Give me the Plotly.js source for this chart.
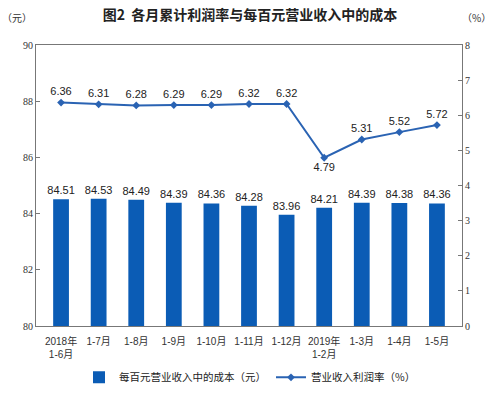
<!DOCTYPE html>
<html><head><meta charset="utf-8">
<script src="https://cdn.plot.ly/plotly-3.0.1.min.js"></script>
<style>body{margin:0;background:#fff}#c{width:500px;height:393px}</style>
</head><body><div id="c"></div>
<script>
const categories = ["2018年<br>1-6月","1-7月","1-8月","1-9月","1-10月","1-11月","1-12月","2019年<br>1-2月","1-3月","1-4月","1-5月"];
const costValues = [84.51,84.53,84.49,84.39,84.36,84.28,83.96,84.21,84.39,84.38,84.36];
const profitRate = [6.36,6.31,6.28,6.29,6.29,6.32,6.32,4.79,5.31,5.52,5.72];
const leftTicks = [80,82,84,86,88,90];
const rightTicks = [0,1,2,3,4,5,6,7,8];

const serif = "Liberation Serif, serif";
const sans = "Liberation Sans, Arial, sans-serif";
const cjk = "Noto Sans CJK SC, sans-serif";
const mixed = "Liberation Sans, Noto Sans CJK SC, sans-serif";

const bars = {
  type:'bar', x:categories, y:costValues, name:'每百元营业收入中的成本（元）',
  marker:{color:'#0b5cb5'}, width:0.42,
  text: costValues.map(v=>v.toFixed(2)), textposition:'outside', cliponaxis:false, constraintext:'none',
  textfont:{family:sans, size:11, color:'#222'}
};
const line = {
  type:'scatter', mode:'lines+markers+text', x:categories, y:profitRate, yaxis:'y2',
  name:'营业收入利润率（%）',
  line:{color:'#2a63b3', width:2}, marker:{symbol:'diamond', size:6, color:'#2a63b3'},
  text: profitRate.map(v=>v.toFixed(2)),
  textposition: profitRate.map((v,i)=> i===7 ? 'bottom center' : 'top center'),
  textfont:{family:sans, size:11, color:'#222'}, cliponaxis:false
};
const layout = {
  width:500, height:393,
  margin:{l:36, r:38, t:45, b:67},
  paper_bgcolor:'#fff', plot_bgcolor:'#fff',
  showlegend:true,
  legend:{orientation:'h', xref:'container', yref:'container', x:0.5, xanchor:'center', y:0.04, yanchor:'middle',
    font:{family:cjk, size:10.5, color:'#222'}},
  title:{text:'图2  各月累计利润率与每百元营业收入中的成本', x:0.5, xanchor:'center', y:0.962, yanchor:'middle',
    font:{family:cjk, size:14, color:'#222', weight:'bold'}},
  xaxis:{showline:true, linecolor:'#777', linewidth:1, mirror:true, ticks:'', ticklabelstandoff:6,
    tickfont:{family:mixed, size:10, color:'#333'}, showgrid:false, fixedrange:true, automargin:false},
  yaxis:{range:[80,90], tickvals:leftTicks, showline:true, linecolor:'#777', ticks:'inside', ticklen:4, tickcolor:'#777',
    tickfont:{family:serif, size:10, color:'#333'}, showgrid:false, zeroline:false, automargin:false},
  yaxis2:{range:[0,8], tickvals:rightTicks, overlaying:'y', side:'right', showline:true, linecolor:'#777', ticks:'inside', ticklen:4, tickcolor:'#777',
    tickfont:{family:serif, size:10, color:'#333'}, showgrid:false, zeroline:false, automargin:false},
  annotations:[
    {text:'（元）', xref:'paper', yref:'paper', x:-0.085, y:1.065, xanchor:'left', yanchor:'bottom', showarrow:false, font:{family:cjk, size:10, color:'#333'}},
    {text:'（%）', xref:'paper', yref:'paper', x:1.035, y:1.065, xanchor:'center', yanchor:'bottom', showarrow:false, font:{family:cjk, size:10, color:'#333'}}
  ]
};
Plotly.newPlot('c',[bars,line],layout,{displayModeBar:false, staticPlot:true});
</script></body></html>
